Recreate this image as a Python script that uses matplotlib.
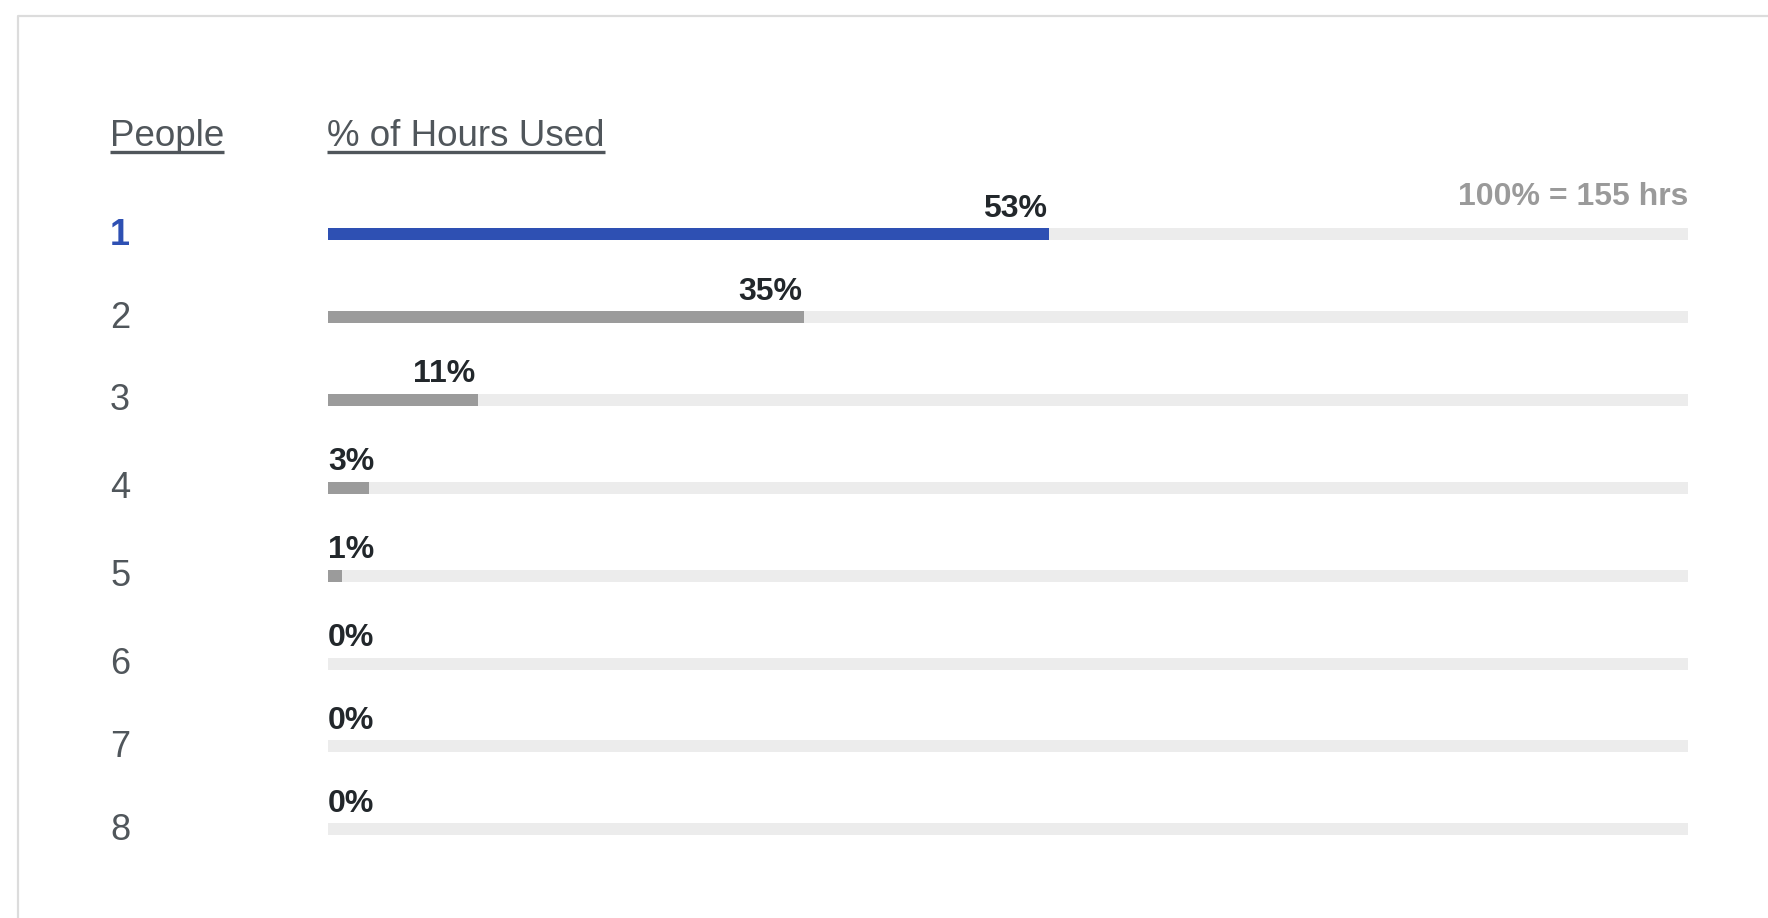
import matplotlib
matplotlib.use("Agg")
import matplotlib.pyplot as plt
from matplotlib.lines import Line2D
from matplotlib import transforms

# team size vs share of hours used
PEOPLE = [1, 2, 3, 4, 5, 6, 7, 8]
PCT_USED = [53, 35, 11, 3, 1, 0, 0, 0]
TOTAL_HRS = 155
HIGHLIGHT = 0  # index of the emphasised row

W, H = 1768, 918
BLUE = "#2e50b3"; GREYBAR = "#9b9b9b"; TRACK = "#ececec"
INK = "#22272b"; INK2 = "#50565b"; NOTE = "#9a9a9a"; FRAME = "#dcdcdc"
FONT = "Liberation Sans"

fig = plt.figure(figsize=(W / 100, H / 100), dpi=100)
fig.patch.set_facecolor("white")

# bar area spans x 328..1688 px; y axis counts pixels from the top
X0, X1 = 328, 1688
ROW_Y = [234, 317, 399.5, 487.5, 575.5, 663.5, 746, 829]
ax = fig.add_axes([X0 / W, 0, (X1 - X0) / W, 1])
ax.set_xlim(0, 100)
ax.set_ylim(H, 0)
ax.axis("off")

BAR_H = 12
ax.barh(ROW_Y, [100] * len(ROW_Y), height=BAR_H, left=0, color=TRACK, zorder=1)
ax.barh(ROW_Y, PCT_USED, height=BAR_H, left=0, zorder=2,
        color=[BLUE if i == HIGHLIGHT else GREYBAR for i in range(len(ROW_Y))])

# value labels: right-aligned to bar end, or at track start if bar is too short
for y, v in zip(ROW_Y, PCT_USED):
    short = v < 5
    ax.annotate(f"{v}%", (0 if short else v, y - BAR_H / 2),
                xytext=(0 if short else -2, 11), textcoords="offset pixels",
                ha="left" if short else "right", va="baseline",
                fontsize=23, fontweight="bold", color=INK, family=FONT)

ax.annotate(f"100% = {TOTAL_HRS} hrs", (100, ROW_Y[0]), xytext=(0, 29), textcoords="offset pixels",
            ha="right", va="baseline", fontsize=23, fontweight="bold", color=NOTE, family=FONT)

# row numbers on the left
tr = transforms.blended_transform_factory(fig.transFigure, ax.transData)
for i, (y, p) in enumerate(zip(ROW_Y, PEOPLE)):
    hl = i == HIGHLIGHT
    ax.annotate(str(p), (110 / W, y), xycoords=tr, xytext=(0, -11), textcoords="offset pixels",
                ha="left", va="baseline", fontsize=26, color=BLUE if hl else INK2,
                fontweight="bold" if hl else "normal", family=FONT, annotation_clip=False)

# underlined column headers
heads = []
for x, s in [(110, "People"), (327, "% of Hours Used")]:
    heads.append(fig.text(x / W, 1 - 146 / H, s, ha="left", va="baseline",
                          fontsize=26.5, color=INK2, family=FONT))
fig.canvas.draw()
r = fig.canvas.get_renderer()
for t in heads:
    bb = t.get_window_extent(r)
    y = 1 - 151.5 / H
    fig.add_artist(Line2D([bb.x0 / W, bb.x1 / W], [y, y], color=INK2, lw=2.4,
                          solid_capstyle="butt"))

# thin card frame, top and left edges
fig.add_artist(Line2D([18 / W, 18 / W, 1], [0, 1 - 16 / H, 1 - 16 / H], color=FRAME, lw=1.6))

fig.savefig("out.png", dpi=100)
